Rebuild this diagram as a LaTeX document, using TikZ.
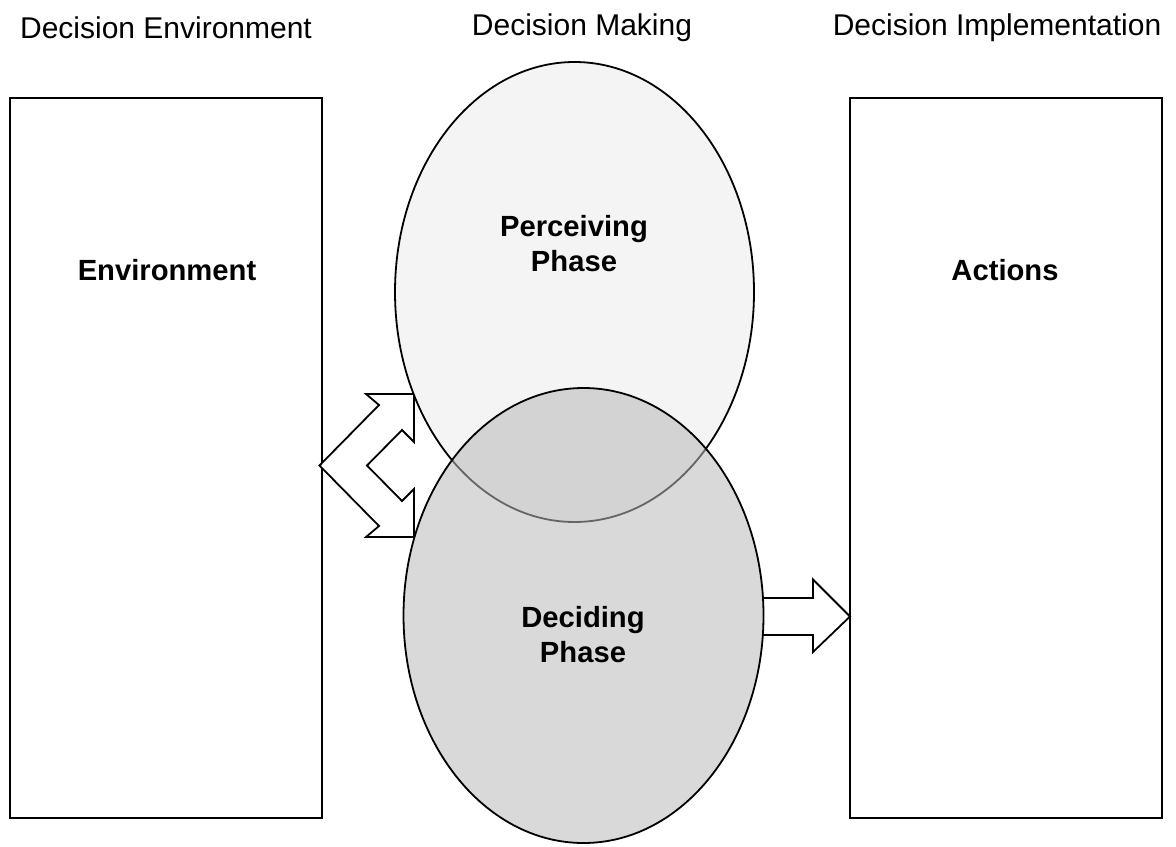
\documentclass[tikz,border=0pt]{standalone}
\usepackage{fontspec}
\setmainfont{Liberation Sans}
\usetikzlibrary{shapes.geometric}
\definecolor{percfill}{HTML}{F4F4F4}
\definecolor{decfill}{HTML}{B9B9B9}
\begin{document}
\begin{tikzpicture}[x=0.5pt,y=-0.5pt,
  box/.style={draw=black,line width=1pt,fill=white,rectangle,inner sep=0pt,outer sep=0pt,minimum width=156pt,minimum height=360pt},
  phase/.style={draw=black,line width=0.9pt,ellipse,inner sep=0pt,outer sep=0pt},
  head/.style={font=\fontsize{15}{18}\selectfont},
  title/.style={font=\fontsize{14.6}{17.5}\selectfont\bfseries,align=center},
  blockarrow/.style={draw=black,line width=0.9pt,fill=white,line join=miter}]
\useasboundingbox (0,0) rectangle (1176,846);
% boxes
\node[box] (env) at (166,458) {};
\node[box] (act) at (1006,458) {};
% double bent arrow
\coordinate (dtip) at (319.5,465.5);
\draw[blockarrow] (dtip) -- (379,405) -- (366,394) -- (414,394) -- (414,442) -- (402,430)
  -- (367,465.5) -- (402,501) -- (414,489) -- (414,537) -- (366,537) -- (379,526) -- cycle;
% ellipses
\node[phase,fill=percfill,minimum width=179.5pt,minimum height=230pt] (perc) at (574.5,292) {};
\node[phase,fill=decfill,fill opacity=0.55,minimum width=180pt,minimum height=227.5pt] (dec) at (583.5,615.5) {};
% right arrow
\draw[blockarrow,fill=none] (763,598) -- (813,598) -- (813,579.5) -- (850,616.5) -- (813,652) -- (813,635) -- (763,635);
% headings
\node[head] (h1) at (166,28) {Decision Environment};
\node[head] (h2) at (582,28) {Decision Making};
\node[head] (h3) at (997,28) {Decision Implementation};
% labels
\node[title] (tenv) at (167,270) {Environment};
\node[title] (tperc) at (574,244) {Perceiving\\Phase};
\node[title] (tdec) at (583,635) {Deciding\\Phase};
\node[title] (tact) at (1005,270) {Actions};
\end{tikzpicture}
\end{document}
